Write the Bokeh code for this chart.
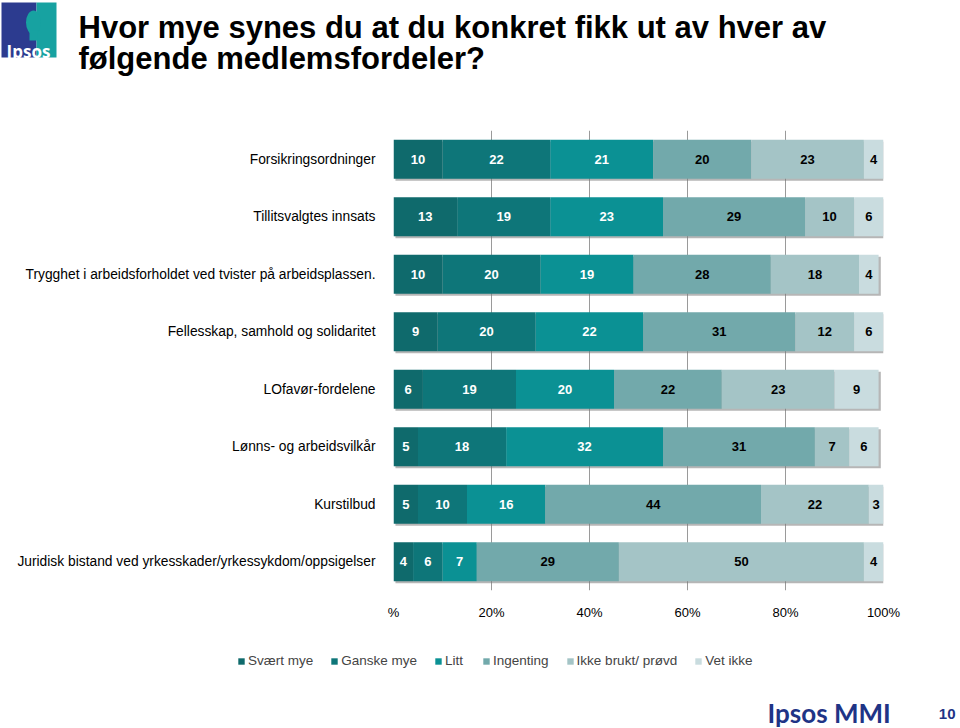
from bokeh.plotting import figure
from bokeh.layouts import column
from bokeh.models import (ColumnDataSource, FactorRange, Range1d, FixedTicker,
                          Label, Legend, LegendItem)
from bokeh.transform import dodge
from bokeh.core.properties import value
from bokeh.embed import file_html
from bokeh.resources import INLINE

# ---------------- data ----------------
categories = [
    "Forsikringsordninger",
    "Tillitsvalgtes innsats",
    "Trygghet i arbeidsforholdet ved tvister på arbeidsplassen.",
    "Fellesskap, samhold og solidaritet",
    "LOfavør-fordelene",
    "Lønns- og arbeidsvilkår",
    "Kurstilbud",
    "Juridisk bistand ved yrkesskader/yrkessykdom/oppsigelser",
]
series_names = ["Svært mye", "Ganske mye", "Litt", "Ingenting", "Ikke brukt/ prøvd", "Vet ikke"]
svaert_mye = [10, 13, 10, 9, 6, 5, 5, 4]
ganske_mye = [22, 19, 20, 20, 19, 18, 10, 6]
litt = [21, 23, 19, 22, 20, 32, 16, 7]
ingenting = [20, 29, 28, 31, 22, 31, 44, 29]
ikke_brukt = [23, 10, 18, 12, 23, 7, 22, 50]
vet_ikke = [4, 6, 4, 6, 9, 6, 3, 4]
tick_values = [0, 20, 40, 60, 80, 100]
tick_labels = ["%", "20%", "40%", "60%", "80%", "100%"]
title_lines = ["Hvor mye synes du at du konkret fikk ut av hver av",
               "følgende medlemsfordeler?"]

series_values = [svaert_mye, ganske_mye, litt, ingenting, ikke_brukt, vet_ikke]
colors = ["#0f6a6c", "#0e7679", "#0b9194", "#72a9ab", "#a4c4c6", "#c9dcdf"]
label_colors = ["white", "white", "white", "black", "black", "black"]

FONT = "Liberation Sans"
W = 960
HEAD_H, MAIN_H = 124, 498
FOOT_H = 728 - HEAD_H - MAIN_H


def blank_figure(h):
    f = figure(width=W, height=h, output_backend="svg", toolbar_location=None,
               x_range=Range1d(0, W), y_range=Range1d(h, 0),
               x_axis_location=None, y_axis_location=None,
               min_border=0, min_border_left=0, min_border_right=0,
               min_border_top=0, min_border_bottom=0, frame_align=False)
    f.grid.visible = False
    f.outline_line_color = None
    f.background_fill_color = "white"
    f.border_fill_color = "white"
    return f


# ---------------- header ----------------
head = blank_figure(HEAD_H)
# Ipsos logo (decoration)
head.quad(left=[1, 36], right=[36, 56], top=[2, 2], bottom=[57, 57],
          fill_color=["#2c3b8f", "#17a2a1"], line_color=None)
head.ellipse(x=[33], y=[22], width=[15], height=[24], fill_color="#17a2a1", line_color=None)
head.quad(left=[29], right=[37], top=[30], bottom=[40], fill_color="#17a2a1", line_color=None)
head.add_layout(Label(x=28, y=51, text="Ipsos", text_font="Open Sans", text_font_style="bold",
                      text_font_size="17px", text_color="white", text_align="center",
                      text_baseline="alphabetic"))
for i, line in enumerate(title_lines):
    head.add_layout(Label(x=78, y=27 + 31 * i, text=line, text_font=FONT,
                          text_font_style="bold", text_font_size="31px",
                          text_color="black", text_baseline="alphabetic"))

# ---------------- main chart ----------------
FRAME_TOP, FRAME_BOT = 130 - HEAD_H, 596 - HEAD_H
p = figure(width=W, height=MAIN_H, output_backend="svg", toolbar_location=None,
           y_range=FactorRange(factors=list(reversed(categories)), range_padding=0),
           x_range=Range1d(0, 100), frame_align=False,
           min_border_left=393, min_border_right=W - 883,
           min_border_top=FRAME_TOP, min_border_bottom=MAIN_H - FRAME_BOT)
p.outline_line_color = None
p.background_fill_color = "white"
p.border_fill_color = "white"

p.ygrid.grid_line_color = None
p.xgrid.grid_line_color = "#9a9a9a"
p.xgrid.grid_line_width = 1
p.xaxis.ticker = FixedTicker(ticks=tick_values)
p.xaxis.major_label_overrides = {v: t for v, t in zip(tick_values, tick_labels)}
p.xaxis.axis_line_color = None
p.xaxis.major_tick_line_color = None
p.xaxis.minor_tick_line_color = None
p.xaxis.major_label_text_font = FONT
p.xaxis.major_label_text_font_size = "13px"
p.xaxis.major_label_text_color = "black"
p.xaxis.major_label_standoff = 8

p.yaxis.axis_line_color = None
p.yaxis.major_tick_line_color = None
p.yaxis.minor_tick_line_color = None
p.yaxis.major_label_text_font = FONT
p.yaxis.major_label_text_font_size = "13.8px"
p.yaxis.major_label_text_color = "black"
p.yaxis.major_label_standoff = 12

totals = [sum(s[i] for s in series_values) for i in range(len(categories))]
shadow_src = ColumnDataSource(dict(cat=categories, left=[0.4] * len(categories),
                                   right=[t + 0.45 for t in totals]))
p.hbar(y=dodge("cat", -0.035, range=p.y_range), left="left", right="right", height=0.68,
       source=shadow_src, fill_color="#7a7a7a", fill_alpha=0.55, line_color=None)

lefts = [0.0] * len(categories)
for name, vals, col, lc in zip(series_names, series_values, colors, label_colors):
    rights = [l + v for l, v in zip(lefts, vals)]
    mids = [l + v / 2 for l, v in zip(lefts, vals)]
    src = ColumnDataSource(dict(cat=categories, left=lefts, right=rights, mid=mids,
                                txt=[str(v) for v in vals]))
    p.hbar(y="cat", left="left", right="right", height=0.68, source=src,
           fill_color=col, line_color=None)
    p.text(x="mid", y="cat", text="txt", source=src, text_align="center",
           text_baseline="middle", text_font=value(FONT), text_font_style="bold",
           text_font_size="13px", text_color=lc)
    lefts = rights

# ---------------- footer (legend + branding) ----------------
foot = blank_figure(FOOT_H)
nan = float("nan")
leg_renderers = []
for name, col in zip(series_names, colors):
    r = foot.rect(x=[nan], y=[nan], width=[1], height=[1], fill_color=col, line_color=None)
    leg_renderers.append(r)
legend = Legend(items=[LegendItem(label=nm, renderers=[r]) for nm, r in zip(series_names, leg_renderers)],
                orientation="horizontal", location=(237, FOOT_H - (668 - 622)),
                glyph_width=8, glyph_height=8, label_standoff=3, spacing=17,
                label_text_font=FONT, label_text_font_size="13.5px",
                padding=0, margin=0, border_line_color=None, background_fill_alpha=0)
foot.add_layout(legend, "center")
foot.add_layout(Label(x=767, y=712 - (HEAD_H + MAIN_H), text="Ipsos MMI", text_font="Lato",
                      text_font_style="bold", text_font_size="26px", text_color="#1f3486",
                      text_baseline="alphabetic"))
foot.add_layout(Label(x=955, y=713 - (HEAD_H + MAIN_H), text="10", text_font=FONT,
                      text_font_style="bold", text_font_size="15px", text_color="#1f3486",
                      text_baseline="alphabetic", text_align="right"))

layout = column(head, p, foot, spacing=0)
open("out.html", "w").write(file_html(layout, INLINE))
